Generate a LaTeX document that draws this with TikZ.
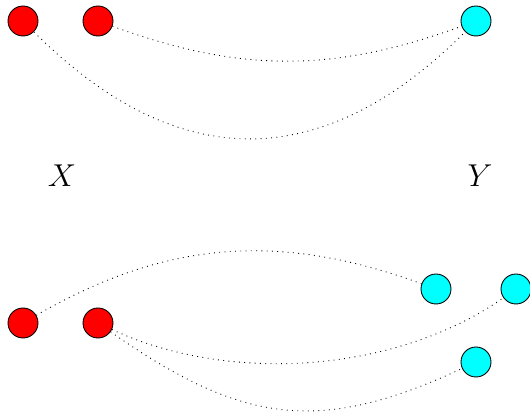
\documentclass[tikz,border=0pt]{standalone}
\usepackage{tikz}
\definecolor{aqua}{RGB}{0,255,255}

\begin{document}
\begin{tikzpicture}[x=0.016cm,y=-0.016cm,
    xpt/.style={circle,draw=black,fill=red,inner sep=0pt,minimum size=0.48cm},
    ypt/.style={circle,draw=black,fill=aqua,inner sep=0pt,minimum size=0.48cm},
    link/.style={dotted}]
    \useasboundingbox (0,0) rectangle (530,416);
    \node [xpt] (x1) at (23,21) {};
    \node [xpt] (x2) at (98,21) {};
    \node [ypt] (y1) at (476,21) {};
    \node [font=\Large] (lx) at (62,176) {$X$};
    \node [font=\Large] (ly) at (480,176) {$Y$};
    \node [xpt] (u1) at (23,323) {};
    \node [xpt] (u2) at (98,323) {};
    \node [ypt] (v1) at (436,289) {};
    \node [ypt] (v2) at (516,289) {};
    \node [ypt] (v3) at (476,362) {};
    \draw [link] (x1) to[out=-45,in=-135,looseness=1.2] (y1);
    \draw [link] (x2) to[out=-20,in=-160] (y1);
    \draw [link] (u1) to[out=30,in=160] (v1);
    \draw [link] (u2) to[out=-25,in=-145,looseness=0.85] (v2);
    \draw [link] (u2) to[out=-35,in=-155,looseness=1.15] (v3);
\end{tikzpicture}
\end{document}
